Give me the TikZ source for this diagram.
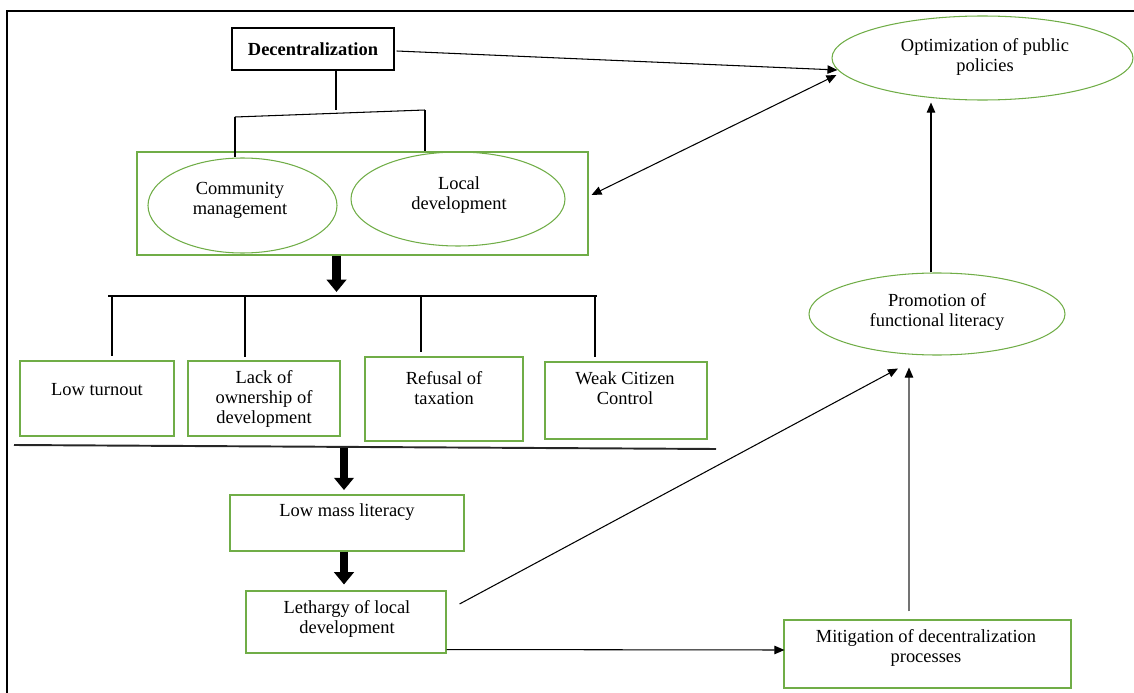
\documentclass[tikz,border=0pt]{standalone}
\usepackage{fontspec}
\setmainfont{Liberation Serif}
\usetikzlibrary{arrows.meta,shapes.geometric}
\definecolor{grn}{RGB}{112,173,71}
\begin{document}
\begin{tikzpicture}[x=0.02cm,y=-0.02cm,
  every node/.style={font=\fontsize{10.5}{11.5}\selectfont},
  sz/.style 2 args={minimum width=#1*0.02cm,minimum height=#2*0.02cm},
  gbox/.style={draw=grn,line width=0.6pt,rectangle,inner sep=0pt},
  gell/.style={draw=grn,line width=0.6pt,ellipse,inner sep=0pt},
  txt/.style={align=center,inner sep=0pt},
  ln/.style={draw=black,line width=0.6pt},
  arr/.style={ln,-{Triangle[length=5.7pt,width=4.8pt]}},
  dblarr/.style={ln,{Triangle[length=5.7pt,width=4.8pt]}-{Triangle[length=5.7pt,width=4.8pt]}},
  bigarr/.style={draw=black,line width=5pt,-{Triangle[length=7pt,width=11pt]}},
]
\useasboundingbox (0,0) rectangle (1134,693);
% frame
\coordinate (fTL) at (7,11);
\coordinate (fTR) at (1134,11);
\coordinate (fBL) at (7,693);
\draw[line width=1.2pt] (fBL) -- (fTL) -- (fTR);

% nodes
\node[draw,line width=0.8pt,inner sep=0pt,sz={162}{42},font=\bfseries\fontsize{10.5}{11.5}\selectfont] (dec) at (313,49) {Decentralization};
\node[gbox,sz={451}{103}] (grp) at (362.5,203.5) {};
\node[gell,sz={189}{95}] (cm) at (242.5,205.5) {};
\node[gell,sz={214}{94}] (ld) at (458,199) {};
\node[txt] (cmt) at (240,200) {Community\\management};
\node[txt] (ldt) at (459,195) {Local\\development};

\node[gbox,sz={154}{75}] (lt) at (97,398.5) {};
\node[gbox,sz={152}{75}] (lo) at (264,398.5) {};
\node[gbox,sz={158}{84}] (rt) at (444,399) {};
\node[gbox,sz={162}{77}] (wc) at (626,400.5) {};
\node[txt] (ltt) at (97,390) {Low turnout};
\node[txt] (lot) at (264,399) {Lack of\\ownership of\\development};
\node[txt] (rtt) at (444,388) {Refusal of\\taxation};
\node[txt] (wct) at (625,388) {Weak Citizen\\Control};

\node[gbox,sz={234}{56}] (lml) at (347,523) {};
\node[txt] (lmlt) at (347,512) {Low mass literacy};
\node[gbox,sz={200}{62}] (leth) at (346,622) {};
\node[txt] (letht) at (347,619) {Lethargy of local\\development};
\node[gbox,sz={287}{68}] (mit) at (927.5,654) {};
\node[txt] (mitt) at (926,648) {Mitigation of decentralization\\processes};
\node[gell,sz={256}{82}] (prom) at (937,314) {};
\node[txt] (promt) at (937,312) {Promotion of\\functional literacy};
\node[gell,sz={301}{84}] (opt) at (982.5,58) {};
\node[txt] (optt) at (985,57) {Optimization of public\\policies};

% decentralization tree
\coordinate (t1) at (336,110);
\coordinate (tL) at (235,117);
\coordinate (tR) at (425,110);
\draw[ln] (dec.south -| t1) -- (t1);
\draw[ln] (tL) -- (tR);
\draw[ln] (tL) -- (tL |- cm.north);
\draw[ln] (tR) -- (tR |- ld.north);

% thick arrow to bracket
\coordinate (bl) at (108,296);
\coordinate (br) at (597,296);
\draw[bigarr,shorten >=2.3pt] ([xshift=-0.52cm]grp.south) -- ([xshift=-0.52cm]grp.south |- bl);
\draw[ln] (bl) -- (br);
\coordinate (d1) at (112,296);
\coordinate (d2) at (245,296);
\coordinate (d3) at (421,296);
\coordinate (d4) at (595,296);
\draw[ln,shorten >=2.3pt] (d1) -- (d1 |- lt.north);
\draw[ln,shorten >=2.0pt] (d2) -- (d2 |- lo.north);
\draw[ln,shorten >=2.6pt] (d3) -- (d3 |- rt.north);
\draw[ln,shorten >=2.8pt] (d4) -- (d4 |- wc.north);

% separator
\coordinate (sL) at (14,445);
\coordinate (sR) at (716,449);
\draw[line width=1.1pt,black!85] (sL) -- (sR);

% thick arrows down
\coordinate (a2) at (344,448);
\draw[bigarr,shorten >=2.5pt] (a2) -- (a2 |- lml.north);
\draw[bigarr,shorten >=3.4pt] ([xshift=-0.06cm]lml.south) -- ([xshift=-0.06cm]lml.south |- leth.north);

% thin arrows
\draw[arr] ([shift={(2,2)}]dec.east) -- ([shift={(6,12)}]opt.west);
\draw[dblarr] ([shift={(5,17)}]opt.west) -- ([shift={(3,-8.5)}]grp.east);
\draw[arr] ([shift={(-6,0)}]prom.north) -- ([shift={(-51.5,2)}]opt.south);
\draw[draw=black!55,line width=0.6pt,-{Triangle[length=5.7pt,width=4.8pt,color=black]}] ([shift={(-18.5,-8)}]mit.north) -- ([shift={(-28,12)}]prom.south);
\draw[arr] ([shift={(13,-18)}]leth.east) -- ([shift={(-39,13)}]prom.south);
\draw[arr] ([shift={(0,-4)}]leth.south east) -- ([shift={(1,-4)}]mit.west);
\end{tikzpicture}
\end{document}
